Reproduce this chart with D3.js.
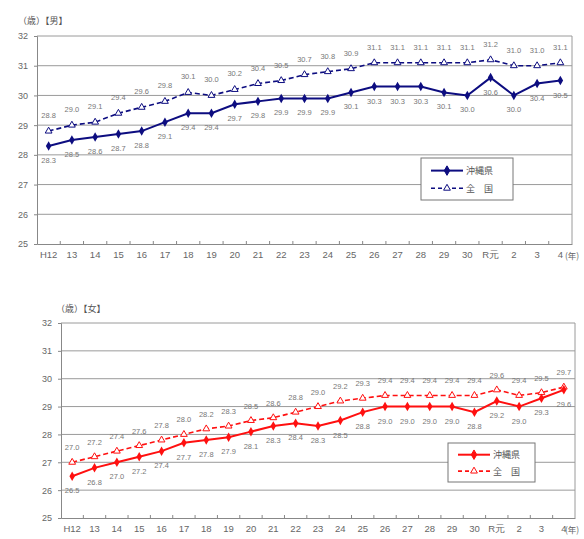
<!DOCTYPE html>
<html><head><meta charset="utf-8">
<script src="https://cdn.jsdelivr.net/npm/d3@7"></script>
<style>
body{margin:0;background:#fff;}
svg{display:block;font-family:"Noto Sans CJK JP","DejaVu Sans",sans-serif;}
</style></head>
<body><svg id="c" width="584" height="539"></svg>
<script>
const categories = ["H12","13","14","15","16","17","18","19","20","21","22","23","24","25","26","27","28","29","30","R元","2","3","4"];
const maleOkinawa   = [28.3,28.5,28.6,28.7,28.8,29.1,29.4,29.4,29.7,29.8,29.9,29.9,29.9,30.1,30.3,30.3,30.3,30.1,30.0,30.6,30.0,30.4,30.5];
const maleNational  = [28.8,29.0,29.1,29.4,29.6,29.8,30.1,30.0,30.2,30.4,30.5,30.7,30.8,30.9,31.1,31.1,31.1,31.1,31.1,31.2,31.0,31.0,31.1];
const femaleOkinawa = [26.5,26.8,27.0,27.2,27.4,27.7,27.8,27.9,28.1,28.3,28.4,28.3,28.5,28.8,29.0,29.0,29.0,29.0,28.8,29.2,29.0,29.3,29.6];
const femaleNational= [27.0,27.2,27.4,27.6,27.8,28.0,28.2,28.3,28.5,28.6,28.8,29.0,29.2,29.3,29.4,29.4,29.4,29.4,29.4,29.6,29.4,29.5,29.7];
const yTicks = [25,26,27,28,29,30,31,32];
const seriesNames = ["沖縄県","全　国"];
const panelTitles = ["（歳）【男】","（歳）【女】"];
const yearUnit = "(年)";

const svg = d3.select("#c");

function panel(o){
  const g = svg.append("g");
  const x = d3.scaleBand().domain(categories).range([o.x0,o.x1]);
  const y = d3.scaleLinear().domain([25,32]).range([o.y1,o.y0]);
  g.selectAll("line.grid").data(yTicks.slice(1)).join("line")
    .attr("x1",o.x0).attr("x2",o.x1).attr("y1",d=>y(d)).attr("y2",d=>y(d))
    .attr("stroke","#9a9a9a").attr("stroke-width",1);
  g.append("line").attr("x1",o.x1).attr("x2",o.x1).attr("y1",y(32)).attr("y2",y(25))
    .attr("stroke","#9a9a9a");
  const ya = g.append("g").attr("transform",`translate(${o.x0},0)`)
    .call(d3.axisLeft(y).tickValues(yTicks).tickFormat(d3.format("d")).tickSize(3).tickPadding(6));
  ya.select(".domain").attr("stroke","#888");
  ya.selectAll(".tick line").attr("stroke","#888");
  ya.selectAll("text").attr("fill","#666").attr("font-size",9).attr("font-family","Liberation Sans, Arial, sans-serif");
  const xa = g.append("g").attr("transform",`translate(0,${o.y1})`)
    .call(d3.axisBottom(x).tickSize(0).tickPadding(7));
  xa.select(".domain").attr("stroke","#888");
  xa.selectAll("text").attr("fill","#666").attr("font-size",9.5).attr("font-family","Liberation Sans, Arial, sans-serif");
  g.selectAll("line.xt").data(categories.slice(1)).join("line")
    .attr("x1",d=>x(d)).attr("x2",d=>x(d)).attr("y1",o.y1).attr("y2",o.y1-3)
    .attr("stroke","#888");
  g.append("text").attr("x",565).attr("y",o.y1+15).attr("font-size",8.5).attr("fill","#666").text(yearUnit);
  g.append("text").attr("x",o.tx).attr("y",o.ty).attr("font-size",9).attr("fill","#555").text(o.title);

  const cx = d=>x(d)+x.bandwidth()/2;
  const line = d3.line().x((d,i)=>cx(categories[i])).y(d=>y(d));
  g.append("path").datum(o.nat).attr("d",line).attr("fill","none")
    .attr("stroke",o.color).attr("stroke-width",1.6).attr("stroke-dasharray","5,3");
  g.append("path").datum(o.oki).attr("d",line).attr("fill","none")
    .attr("stroke",o.color).attr("stroke-width",2);
  const tri = d3.symbol().type(d3.symbolTriangle).size(20);
  const dia = d3.symbol().type(d3.symbolDiamond).size(26);
  g.selectAll("path.tri").data(o.nat).join("path")
    .attr("transform",(d,i)=>`translate(${cx(categories[i])},${y(d)})`)
    .attr("d",tri).attr("fill","#fff").attr("stroke",o.color).attr("stroke-width",1);
  g.selectAll("path.dia").data(o.oki).join("path")
    .attr("transform",(d,i)=>`translate(${cx(categories[i])},${y(d)})`)
    .attr("d",dia).attr("fill",o.color);
  g.selectAll("text.ln").data(o.nat).join("text")
    .attr("x",(d,i)=>cx(categories[i])).attr("y",d=>y(d)-o.offUp)
    .attr("text-anchor","middle").attr("font-size",7.5).attr("fill","#777")
    .attr("font-family","Liberation Sans, Arial, sans-serif").text(d=>d.toFixed(1));
  g.selectAll("text.lo").data(o.oki).join("text")
    .attr("x",(d,i)=>cx(categories[i])).attr("y",d=>y(d)+o.offDown)
    .attr("text-anchor","middle").attr("font-size",7.5).attr("fill","#777")
    .attr("font-family","Liberation Sans, Arial, sans-serif").text(d=>d.toFixed(1));
  const L = g.append("g").attr("transform",`translate(${o.lx},${o.ly})`);
  L.append("rect").attr("width",o.lw).attr("height",o.lh).attr("fill","#fff").attr("stroke","#777");
  [0,1].forEach(k=>{
    const yy = o.lh*(k===0?0.3:0.72);
    L.append("line").attr("x1",10).attr("x2",42).attr("y1",yy).attr("y2",yy)
      .attr("stroke",o.color).attr("stroke-width",k===0?2:1.6).attr("stroke-dasharray",k===0?null:"4,3");
    L.append("path").attr("transform",`translate(26,${yy})`).attr("d",k===0?dia:tri)
      .attr("fill",k===0?o.color:"#fff").attr("stroke",o.color);
    L.append("text").attr("x",45).attr("y",yy+3.5).attr("font-size",9).attr("fill","#555").text(seriesNames[k]);
  });
}

panel({x0:37,x1:572,y0:36,y1:244,color:"#0d0d80",oki:maleOkinawa,nat:maleNational,
  title:panelTitles[0],tx:18,ty:24,offUp:13,offDown:17,lx:421,ly:158,lw:92,lh:42});
panel({x0:61,x1:575,y0:323,y1:518,color:"#ff1010",oki:femaleOkinawa,nat:femaleNational,
  title:panelTitles[1],tx:56,ty:312,offUp:12,offDown:17,lx:448,ly:443,lw:87,lh:39});
</script></body></html>
